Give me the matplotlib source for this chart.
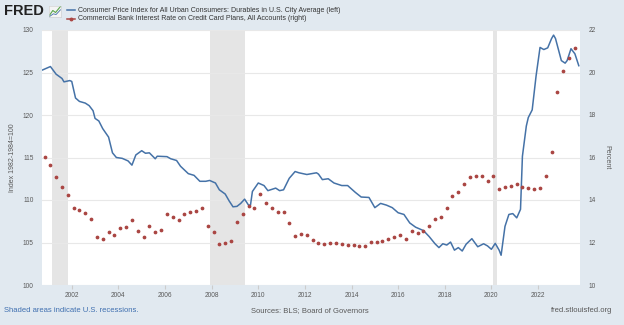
import matplotlib
matplotlib.use("Agg")
import matplotlib.pyplot as plt
import matplotlib.dates as mdates
from matplotlib.lines import Line2D
import pandas as pd

plt.rcParams['font.family'] = ['Liberation Sans', 'DejaVu Sans']

# CPI durables (left axis)
cpi_dates = ['2000-10', '2000-12', '2001-02', '2001-05', '2001-08', '2001-09', '2001-12',
             '2002-01', '2002-03', '2002-05', '2002-08', '2002-10', '2002-12', '2003-01',
             '2003-03', '2003-05', '2003-08', '2003-10', '2003-12', '2004-03', '2004-06',
             '2004-08', '2004-10', '2005-01', '2005-03', '2005-05', '2005-08', '2005-09',
             '2006-02', '2006-04', '2006-07', '2006-09', '2007-01', '2007-04', '2007-07',
             '2007-10', '2007-12', '2008-03', '2008-05', '2008-08', '2008-10', '2008-12',
             '2009-02', '2009-04', '2009-06', '2009-08', '2009-09', '2009-10', '2010-01',
             '2010-04', '2010-06', '2010-10', '2010-12', '2011-02', '2011-05', '2011-08',
             '2011-10', '2012-02', '2012-07', '2012-08', '2012-10', '2013-01', '2013-04',
             '2013-08', '2013-11', '2014-03', '2014-06', '2014-10', '2015-01', '2015-04',
             '2015-07', '2015-10', '2016-01', '2016-04', '2016-07', '2016-10', '2017-02',
             '2017-05', '2017-08', '2017-10', '2017-12', '2018-02', '2018-04', '2018-06',
             '2018-08', '2018-10', '2018-12', '2019-03', '2019-06', '2019-09', '2019-11',
             '2020-01', '2020-03', '2020-05', '2020-06', '2020-08', '2020-10', '2020-12',
             '2021-02', '2021-04', '2021-05', '2021-07', '2021-08', '2021-10', '2021-12',
             '2022-02', '2022-04', '2022-06', '2022-08', '2022-09', '2022-10', '2023-01',
             '2023-03', '2023-04', '2023-06', '2023-08', '2023-10']
cpi_vals = [125.3, 125.5, 125.7, 124.8, 124.3, 123.9, 124.05,
            123.95, 122.0, 121.6, 121.4, 121.1, 120.5, 119.6,
            119.3, 118.4, 117.4, 115.55, 115.0, 114.9, 114.6,
            114.1, 115.3, 115.8, 115.5, 115.55, 114.85, 115.15,
            115.1, 114.85, 114.65, 113.97, 113.1, 112.9, 112.2,
            112.2, 112.3, 112.0, 111.2, 110.7, 109.9, 109.2,
            109.25, 109.6, 110.1, 109.4, 109.4, 111.0, 112.0,
            111.7, 111.1, 111.4, 111.1, 111.2, 112.55, 113.35,
            113.2, 113.0, 113.2, 113.05, 112.4, 112.5, 112.0,
            111.7, 111.7, 110.9, 110.35, 110.3, 109.1, 109.6,
            109.4, 109.1, 108.5, 108.3, 107.3, 106.8, 106.4,
            105.7, 104.85, 104.4, 104.85, 104.7, 105.05, 104.1,
            104.4, 104.0, 104.8, 105.45, 104.5, 104.85, 104.6,
            104.2, 104.9, 104.1, 103.5, 106.9, 108.3, 108.4,
            107.9, 108.9, 115.15, 118.7, 119.7, 120.6, 124.6,
            127.95, 127.7, 127.9, 129.0, 129.4, 129.0, 126.4,
            126.1, 126.4, 127.8, 127.2, 125.8]

# credit card interest rate (right axis), quarterly from Nov 2000
rate_start = '2000-11-01'
rate_vals = [16.01, 15.63, 15.08, 14.61, 14.22, 13.64, 13.54, 13.37, 13.12, 12.27,
             12.15, 12.49, 12.37, 12.68, 12.72, 13.04, 12.53, 12.24, 12.79, 12.51,
             12.60, 13.33, 13.19, 13.07, 13.33, 13.42, 13.47, 13.61, 12.76, 12.49,
             11.92, 11.96, 12.06, 12.98, 13.34, 13.73, 13.61, 14.27, 13.86, 13.61,
             13.45, 13.45, 12.92, 12.31, 12.39, 12.37, 12.10, 11.98, 11.92, 11.98,
             11.98, 11.92, 11.87, 11.87, 11.85, 11.85, 12.02, 12.02, 12.07, 12.15,
             12.24, 12.34, 12.18, 12.53, 12.43, 12.56, 12.79, 13.11, 13.19, 13.64,
             14.17, 14.39, 14.74, 15.10, 15.14, 15.12, 14.88, 15.12, 14.53, 14.61,
             14.67, 14.77, 14.63, 14.55, 14.52, 14.58, 15.14, 16.27, 19.07, 20.07,
             20.67, 21.15]

recessions = [('2001-03-01', '2001-11-01'), ('2007-12-01', '2009-06-01'), ('2020-02-01', '2020-04-01')]

bg = '#e1e9f0'
txt = '#595959'
blue = '#4572a7'
red = '#aa4643'

cpi_x = pd.to_datetime(cpi_dates)
rate_x = pd.date_range(rate_start, periods=len(rate_vals), freq='3MS')

fig = plt.figure(figsize=(6.24, 3.25), dpi=100, facecolor=bg)
ax = fig.add_axes([42/624, 1-285/325, 538/624, 255/325])
ax.set_facecolor('white')
ax2 = ax.twinx()

for a, b in recessions:
    ax.axvspan(pd.Timestamp(a), pd.Timestamp(b), color='#e5e5e5', lw=0, zorder=0)

ax.plot(cpi_x, cpi_vals, color=blue, lw=1.1, zorder=3)
ax2.plot(rate_x, rate_vals, ls='none', marker='o', ms=1.7, color=red, mec=red)

ax.set_xlim(pd.Timestamp('2000-09-22'), pd.Timestamp('2023-10-20'))
ax.set_ylim(100, 130)
ax2.set_ylim(10, 22)
ax.set_yticks(range(100, 131, 5))
ax2.set_yticks(range(10, 23, 2))
ax.xaxis.set_major_locator(mdates.YearLocator(2))
ax.xaxis.set_major_formatter(mdates.DateFormatter('%Y'))
ax.grid(axis='y', color='#e8e8e8', lw=0.8)
ax.set_axisbelow(True)

for a in (ax, ax2):
    for s in a.spines.values():
        s.set_visible(False)
    a.tick_params(labelsize=4.7, colors=txt, length=0, pad=6)
ax.tick_params(axis='x', length=3, color='#cccccc', pad=2)

ax.set_ylabel('Index 1982-1984=100', fontsize=5, color=txt, labelpad=5)
ax2.set_ylabel('Percent', fontsize=5, color=txt, rotation=270, labelpad=11)

# header: logo and legend
fig.text(4/624, 1-11/325, 'FRED', fontsize=10.5, fontweight='bold', color='#222222', va='center')
icon = fig.add_axes([49/624, 1-17/325, 12/624, 11/325])
icon.set_facecolor('#f4f4f4')
icon.plot([0, 0.3, 0.55, 1], [0.2, 0.55, 0.4, 0.85], color='#5aa54a', lw=0.8)
icon.plot([0, 0.35, 0.6, 1], [0.1, 0.3, 0.25, 0.6], color='#4572a7', lw=0.6)
icon.set_xticks([])
icon.set_yticks([])
for s in icon.spines.values():
    s.set_color('#cccccc')
    s.set_linewidth(0.4)

fig.add_artist(Line2D([67/624, 75/624], [1-10/325, 1-10/325], color=blue, lw=1.1))
fig.add_artist(Line2D([67/624, 75/624], [1-19/325, 1-19/325], color=red, lw=1.1))
fig.add_artist(Line2D([71/624], [1-19/325], color=red, marker='o', ms=1.8))
fig.text(78/624, 1-10/325, 'Consumer Price Index for All Urban Consumers: Durables in U.S. City Average (left)',
         fontsize=5, color='#333333', va='center')
fig.text(78/624, 1-19/325, 'Commercial Bank Interest Rate on Credit Card Plans, All Accounts (right)',
         fontsize=5, color='#333333', va='center')

# footer
fig.text(4/624, 1-311/325, 'Shaded areas indicate U.S. recessions.', fontsize=5.5, color='#3f6fb0', va='center')
fig.text(251/624, 1-311/325, 'Sources: BLS; Board of Governors', fontsize=5.5, color=txt, va='center')
fig.text(612/624, 1-311/325, 'fred.stlouisfed.org', fontsize=5.5, color=txt, va='center', ha='right')

fig.savefig('out.png', dpi=100, facecolor=bg)
